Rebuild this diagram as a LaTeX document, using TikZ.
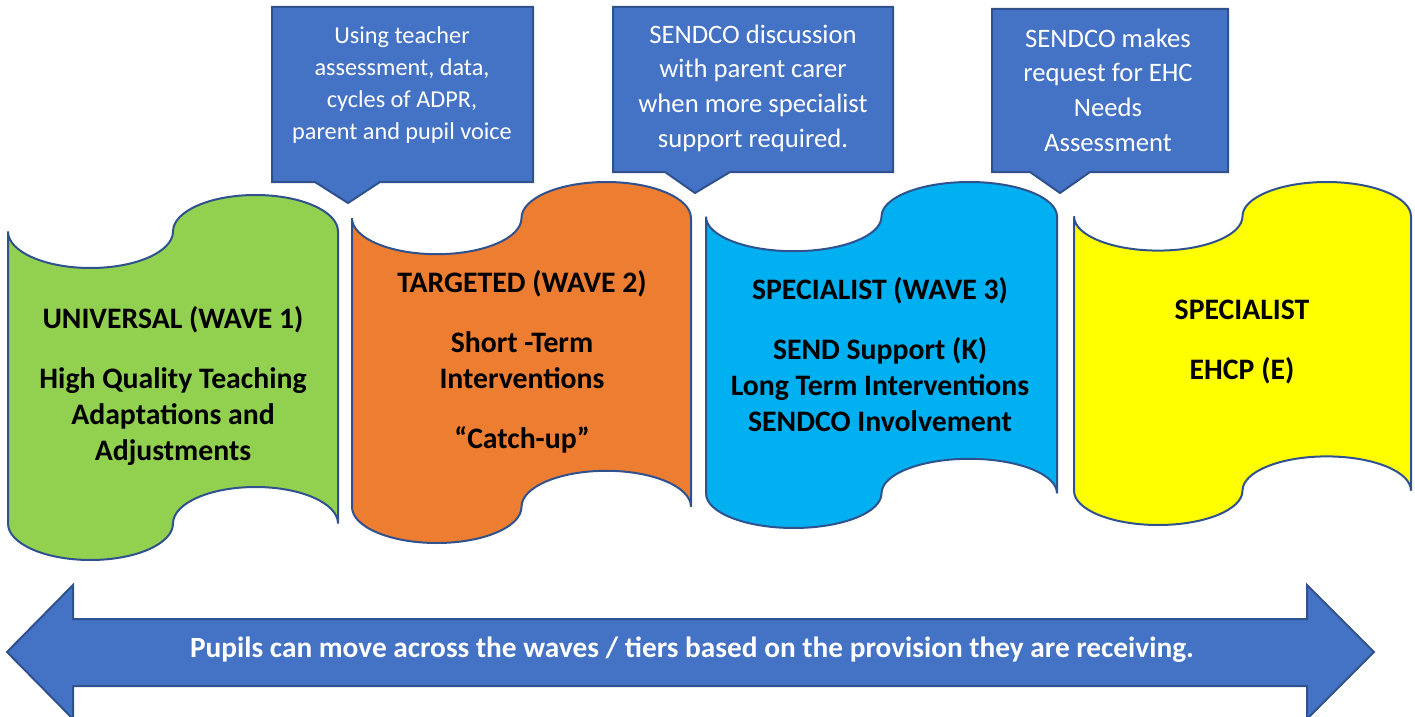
\documentclass[tikz,border=0pt]{standalone}
\usepackage{fontspec}
\setmainfont{Carlito}
\definecolor{calloutblue}{HTML}{4472C4}
\definecolor{edgeblue}{HTML}{2F528F}
\definecolor{wavegreen}{HTML}{92D050}
\definecolor{waveorange}{HTML}{ED7D31}
\definecolor{waveblue}{HTML}{00B0F0}
\definecolor{waveyellow}{HTML}{FFFF00}

% punched tape: fill colour, top left x y, bottom right x y
\newcommand{\tapeshape}[5]{%
  \pgfmathsetmacro{\ta}{(#4-#2)/4}
  \pgfmathsetmacro{\tb}{(#5-#3)/10}
  \draw[tape, fill=#1] (#2,#3+\tb)
    arc[start angle=180, end angle=0, x radius=\ta, y radius=\tb]
    arc[start angle=180, end angle=360, x radius=\ta, y radius=\tb]
    -- (#4,#5-\tb)
    arc[start angle=0, end angle=-180, x radius=\ta, y radius=\tb]
    arc[start angle=0, end angle=180, x radius=\ta, y radius=\tb]
    -- cycle;
}

\begin{document}
\begin{tikzpicture}[x=0.75pt, y=-0.75pt,
    tape/.style={draw=edgeblue, line width=1.5pt},
    calloutbox/.style={draw=edgeblue, line width=1.5pt, fill=calloutblue},
    wavetext/.style={align=center, text=black, font=\bfseries\fontsize{22.3}{27}\selectfont},
    callouttext/.style={align=center, text=white, font=\fontsize{20}{26}\selectfont},
    ]
  \useasboundingbox (0,0) rectangle (1415,717);

  % the four waves
  \tapeshape{wavegreen}{8}{195}{338}{560}
  \tapeshape{waveorange}{352}{182}{691}{543}
  \tapeshape{waveblue}{706}{182}{1057}{528}
  \tapeshape{waveyellow}{1074}{182}{1411}{525}

  \node[wavetext] (universal) at (173,386)
    {UNIVERSAL (WAVE 1)\\[18pt] High Quality Teaching\\ Adaptations and\\ Adjustments};
  \node[wavetext] (targeted) at (522,362)
    {TARGETED (WAVE 2)\\[18pt] Short -Term\\ Interventions\\[18pt] “Catch-up”};
  \node[wavetext] (specialist) at (880,355)
    {SPECIALIST (WAVE 3)\\[18pt] SEND Support (K)\\ Long Term Interventions\\ SENDCO Involvement};
  \node[wavetext] (ehcp) at (1242,342)
    {SPECIALIST\\[18pt] EHCP (E)};

  % callouts above the waves
  \draw[calloutbox] (272,7) -- (533,7) -- (533,182) -- (380,182) -- (348,203)
    -- (315,182) -- (272,182) -- cycle;
  \node[callouttext, font=\fontsize{18.2}{23.8}\selectfont] (assess) at (402,85)
    {Using teacher\\ assessment, data,\\ cycles of ADPR,\\ parent and pupil voice};

  \draw[calloutbox] (613,7) -- (893,7) -- (893,172) -- (730,172) -- (695,193)
    -- (665,172) -- (613,172) -- cycle;
  \node[callouttext] (discuss) at (753,88)
    {SENDCO discussion\\ with parent carer\\ when more specialist\\ support required.};

  \draw[calloutbox] (992,9) -- (1228,9) -- (1228,172) -- (1090,172) -- (1060,193)
    -- (1030,172) -- (992,172) -- cycle;
  \node[callouttext] (request) at (1108,90)
    {SENDCO makes\\ request for EHC\\ Needs\\ Assessment};

  % double arrow along the bottom
  \draw[calloutbox] (7,652) -- (73,585) -- (73,619) -- (1307,619) -- (1307,585)
    -- (1374,652) -- (1307,719) -- (1307,686) -- (73,686) -- (73,719) -- cycle;
  \node[text=white, font=\bfseries\fontsize{22}{26}\selectfont] (move) at (692,650)
    {Pupils can move across the waves / tiers based on the provision they are receiving.};
\end{tikzpicture}
\end{document}
